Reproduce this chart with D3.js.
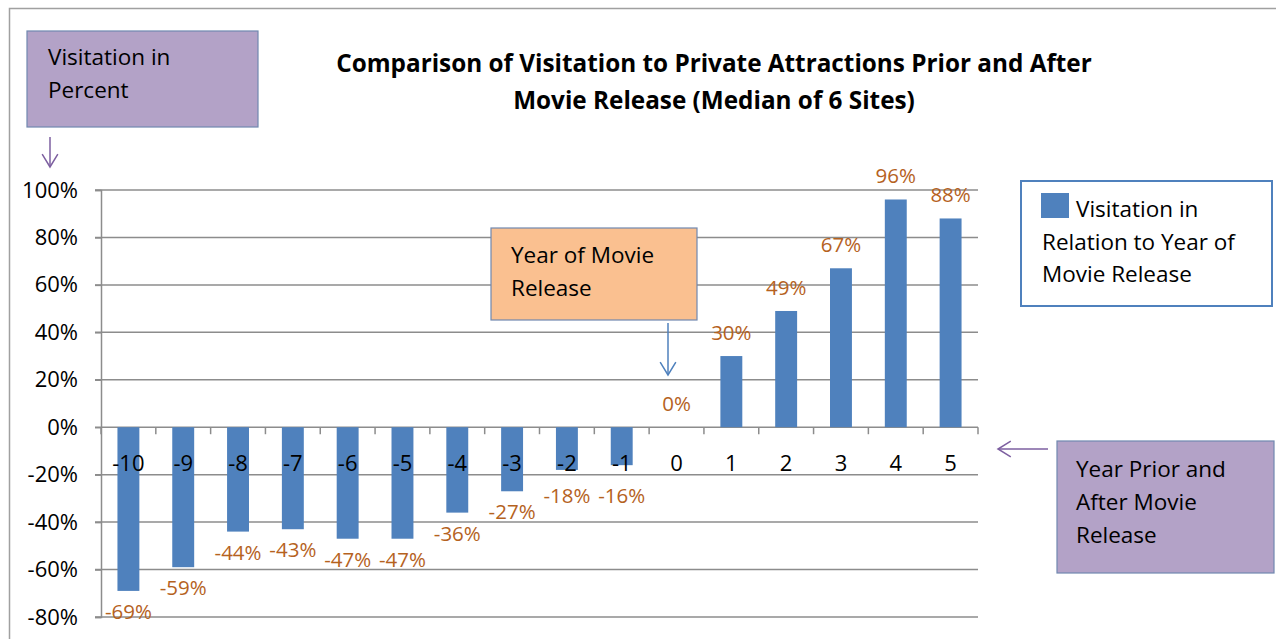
<!DOCTYPE html>
<html>
<head>
<meta charset="utf-8">
<script src="https://cdn.jsdelivr.net/npm/d3@7"></script>
<style>
  body { margin: 0; background: #fff; }
  svg { display: block; font-family: "Open Sans", sans-serif; }
</style>
</head>
<body>
<svg width="1276" height="639"></svg>
<script>
var years = ["-10", "-9", "-8", "-7", "-6", "-5", "-4", "-3", "-2", "-1", "0", "1", "2", "3", "4", "5"];
var visitation = [-69, -59, -44, -43, -47, -47, -36, -27, -18, -16, 0, 30, 49, 67, 96, 88];
var yTicks = [100, 80, 60, 40, 20, 0, -20, -40, -60, -80];

var svg = d3.select("svg"),
    width = +svg.attr("width"),
    height = +svg.attr("height");

var labelColor = "#b5621e",
    barColor = "#4f81bd",
    gridColor = "#8c8c8c",
    purple = "#b3a2c7";

// outer chart frame
svg.append("rect")
    .attr("x", 9.5).attr("y", 8.5)
    .attr("width", 1300).attr("height", 700)
    .attr("fill", "none")
    .attr("stroke", "#a0a0a0")
    .attr("stroke-width", 1.5);

var x = d3.scaleBand()
    .domain(years)
    .range([101, 978])
    .paddingInner(0.6)
    .paddingOuter(0.3);

var y = d3.scaleLinear()
    .domain([-80, 100])
    .range([617, 190]);

// grid lines
svg.append("g")
    .selectAll("line")
    .data(yTicks)
    .enter().append("line")
    .attr("x1", 95).attr("x2", 978)
    .attr("y1", function (d) { return y(d); })
    .attr("y2", function (d) { return y(d); })
    .attr("stroke", gridColor)
    .attr("stroke-width", 1.5);

// y axis
var yAxis = svg.append("g")
    .attr("transform", "translate(101,0)")
    .call(d3.axisLeft(y).tickValues(yTicks).tickSize(6).tickPadding(17)
        .tickFormat(function (d) { return d + "%"; }));
yAxis.select(".domain").attr("stroke", gridColor).attr("stroke-width", 1.5);
yAxis.selectAll(".tick line").attr("stroke", gridColor).attr("stroke-width", 1.5);
yAxis.selectAll("text")
    .attr("fill", "#000")
    .style("font-size", "22px")
    .style("font-family", "'Open Sans', sans-serif");

// category tick marks on the zero line
var bounds = d3.range(years.length + 1).map(function (i) { return 101 + i * x.step(); });
svg.append("g")
    .selectAll("line")
    .data(bounds)
    .enter().append("line")
    .attr("x1", function (d) { return d; })
    .attr("x2", function (d) { return d; })
    .attr("y1", y(0))
    .attr("y2", y(0) + 7)
    .attr("stroke", gridColor)
    .attr("stroke-width", 1.5);

// bars
svg.append("g")
    .selectAll("rect")
    .data(visitation)
    .enter().append("rect")
    .attr("x", function (d, i) { return x(years[i]); })
    .attr("width", x.bandwidth())
    .attr("y", function (d) { return y(Math.max(0, d)); })
    .attr("height", function (d) { return Math.abs(y(d) - y(0)); })
    .attr("fill", barColor);

// category labels
svg.append("g")
    .selectAll("text")
    .data(years)
    .enter().append("text")
    .attr("x", function (d) { return x(d) + x.bandwidth() / 2; })
    .attr("y", 471)
    .attr("text-anchor", "middle")
    .style("font-size", "22px")
    .text(function (d) { return d; });

// value labels (negative ones kept clear of the category labels)
svg.append("g")
    .selectAll("text")
    .data(visitation)
    .enter().append("text")
    .attr("x", function (d, i) { return x(years[i]) + x.bandwidth() / 2; })
    .attr("y", function (d) { return d >= 0 ? y(d) - 16 : Math.max(y(d) + 28, 503); })
    .attr("text-anchor", "middle")
    .attr("fill", labelColor)
    .style("font-size", "20.5px")
    .text(function (d) { return d + "%"; });

// title
svg.append("text")
    .attr("x", 714)
    .attr("text-anchor", "middle")
    .style("font-size", "24.3px")
    .style("font-weight", "bold")
    .selectAll("tspan")
    .data(["Comparison of Visitation to Private Attractions Prior and After", "Movie Release (Median of 6 Sites)"])
    .enter().append("tspan")
    .attr("x", 714)
    .attr("y", function (d, i) { return 72 + i * 37; })
    .text(function (d) { return d; });

function note(x0, y0, w, h, fill, lines, tx, ty) {
    svg.append("rect")
        .attr("x", x0).attr("y", y0)
        .attr("width", w).attr("height", h)
        .attr("fill", fill)
        .attr("stroke", "#7088b0")
        .attr("stroke-width", 1.2);
    svg.append("text")
        .style("font-size", "22.5px")
        .selectAll("tspan")
        .data(lines)
        .enter().append("tspan")
        .attr("x", tx)
        .attr("y", function (d, i) { return ty + i * 33; })
        .text(function (d) { return d; });
}

note(27, 31, 231, 96, purple, ["Visitation in", "Percent"], 48, 65);
note(491, 228, 206, 92, "#fac090", ["Year of Movie", "Release"], 511, 263);
note(1057, 441, 217, 132, purple, ["Year Prior and", "After Movie", "Release"], 1076, 477);

// arrows
function arrow(x1, y1, x2, y2, color) {
    var g = svg.append("g").attr("stroke", color).attr("stroke-width", 1.5).attr("fill", "none");
    g.append("line").attr("x1", x1).attr("y1", y1).attr("x2", x2).attr("y2", y2);
    var a = Math.atan2(y2 - y1, x2 - x1), L = 15, s = 0.55;
    g.append("polyline").attr("points", [
        [x2 - L * Math.cos(a - s), y2 - L * Math.sin(a - s)],
        [x2, y2],
        [x2 - L * Math.cos(a + s), y2 - L * Math.sin(a + s)]
    ].map(function (p) { return p.join(","); }).join(" "));
}
arrow(50, 137, 50, 167, "#7d5fa0");
arrow(668, 323, 668, 375, barColor);
arrow(1048, 449, 998, 449, "#7d5fa0");

// legend
svg.append("rect")
    .attr("x", 1021).attr("y", 181)
    .attr("width", 251).attr("height", 125)
    .attr("fill", "#fff")
    .attr("stroke", barColor)
    .attr("stroke-width", 2);
svg.append("rect")
    .attr("x", 1041).attr("y", 193)
    .attr("width", 28).attr("height", 25)
    .attr("fill", barColor);
var leg = svg.append("text").style("font-size", "22.5px");
leg.append("tspan").attr("x", 1076).attr("y", 217).text("Visitation in");
leg.append("tspan").attr("x", 1042).attr("y", 250).text("Relation to Year of");
leg.append("tspan").attr("x", 1042).attr("y", 282).text("Movie Release");
</script>
</body>
</html>
